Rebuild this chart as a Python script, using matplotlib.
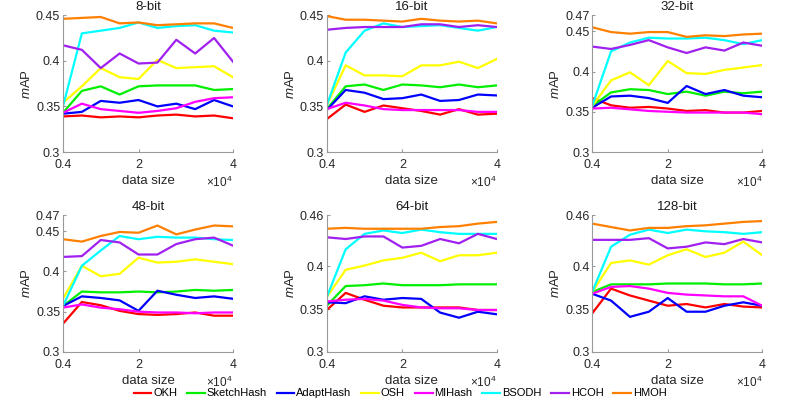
import numpy as np
import matplotlib as mpl
mpl.use('Agg')
import matplotlib.pyplot as plt

plt.rcParams['font.family'] = ['Liberation Sans', 'DejaVu Sans']
plt.rcParams['mathtext.fontset'] = 'custom'
plt.rcParams['mathtext.rm'] = 'Liberation Sans'
plt.rcParams['mathtext.it'] = 'Liberation Sans:italic'

# data size in units of 1e4
data_size = [0.4, 0.8, 1.2, 1.6, 2.0, 2.4, 2.8, 3.2, 3.6, 4.0]

methods = ['OKH', 'SketchHash', 'AdaptHash', 'OSH', 'MIHash', 'BSODH', 'HCOH', 'HMOH']
colors = ['#ff0000', '#00ee00', '#0000ff', '#ffff00', '#ff00ff', '#00ffff', '#a020f0', '#ff8000']

titles = ['8-bit', '16-bit', '32-bit', '48-bit', '64-bit', '128-bit']
ylims = [(0.3, 0.45), (0.3, 0.45), (0.3, 0.47), (0.3, 0.47), (0.3, 0.46), (0.3, 0.46)]
yticks = [[0.3, 0.35, 0.4, 0.45], [0.3, 0.35, 0.4, 0.45],
          [0.3, 0.35, 0.4, 0.45, 0.47], [0.3, 0.35, 0.4, 0.45, 0.47],
          [0.3, 0.35, 0.4, 0.46], [0.3, 0.35, 0.4, 0.46]]

# mAP per method, order: OKH, SketchHash, AdaptHash, OSH, MIHash, BSODH, HCOH, HMOH
map_8 = [
    [0.339, 0.340, 0.338, 0.339, 0.338, 0.340, 0.341, 0.339, 0.340, 0.337],
    [0.343, 0.367, 0.372, 0.363, 0.372, 0.373, 0.373, 0.373, 0.368, 0.369],
    [0.342, 0.344, 0.356, 0.354, 0.357, 0.350, 0.353, 0.347, 0.357, 0.350],
    [0.354, 0.372, 0.392, 0.382, 0.380, 0.401, 0.392, 0.393, 0.394, 0.382],
    [0.343, 0.353, 0.347, 0.345, 0.343, 0.345, 0.348, 0.355, 0.359, 0.360],
    [0.350, 0.430, 0.433, 0.436, 0.442, 0.436, 0.438, 0.439, 0.433, 0.431],
    [0.417, 0.412, 0.392, 0.408, 0.397, 0.398, 0.423, 0.408, 0.425, 0.399],
    [0.446, 0.447, 0.448, 0.441, 0.442, 0.439, 0.440, 0.441, 0.441, 0.436],
]
map_16 = [
    [0.336, 0.352, 0.344, 0.351, 0.348, 0.345, 0.341, 0.347, 0.341, 0.342],
    [0.347, 0.372, 0.374, 0.368, 0.374, 0.373, 0.371, 0.374, 0.371, 0.373],
    [0.346, 0.368, 0.365, 0.358, 0.359, 0.363, 0.356, 0.357, 0.363, 0.362],
    [0.351, 0.395, 0.384, 0.384, 0.383, 0.395, 0.395, 0.399, 0.392, 0.402],
    [0.347, 0.354, 0.351, 0.347, 0.346, 0.346, 0.346, 0.346, 0.344, 0.344],
    [0.351, 0.409, 0.433, 0.441, 0.437, 0.438, 0.439, 0.436, 0.433, 0.437],
    [0.434, 0.436, 0.437, 0.437, 0.437, 0.440, 0.440, 0.437, 0.439, 0.437],
    [0.449, 0.445, 0.445, 0.444, 0.443, 0.446, 0.444, 0.443, 0.444, 0.441],
]
map_32 = [
    [0.367, 0.358, 0.355, 0.356, 0.354, 0.351, 0.352, 0.349, 0.349, 0.351],
    [0.357, 0.374, 0.378, 0.377, 0.372, 0.375, 0.370, 0.375, 0.373, 0.375],
    [0.355, 0.369, 0.370, 0.367, 0.361, 0.382, 0.372, 0.377, 0.370, 0.368],
    [0.357, 0.389, 0.399, 0.383, 0.413, 0.398, 0.397, 0.402, 0.405, 0.408],
    [0.354, 0.355, 0.353, 0.351, 0.350, 0.349, 0.349, 0.349, 0.349, 0.347],
    [0.357, 0.425, 0.436, 0.442, 0.441, 0.441, 0.442, 0.439, 0.434, 0.439],
    [0.431, 0.428, 0.433, 0.439, 0.430, 0.423, 0.430, 0.426, 0.436, 0.432],
    [0.455, 0.449, 0.447, 0.449, 0.449, 0.443, 0.445, 0.444, 0.446, 0.447],
]
map_48 = [
    [0.335, 0.362, 0.358, 0.351, 0.347, 0.346, 0.347, 0.349, 0.345, 0.345],
    [0.357, 0.375, 0.374, 0.374, 0.375, 0.374, 0.375, 0.377, 0.376, 0.377],
    [0.357, 0.369, 0.367, 0.364, 0.351, 0.376, 0.371, 0.367, 0.369, 0.366],
    [0.366, 0.407, 0.394, 0.397, 0.417, 0.411, 0.412, 0.415, 0.412, 0.409],
    [0.355, 0.359, 0.355, 0.353, 0.350, 0.349, 0.349, 0.348, 0.349, 0.349],
    [0.357, 0.407, 0.426, 0.444, 0.440, 0.443, 0.442, 0.442, 0.440, 0.439],
    [0.418, 0.419, 0.439, 0.436, 0.421, 0.421, 0.434, 0.440, 0.442, 0.432],
    [0.440, 0.437, 0.444, 0.449, 0.448, 0.457, 0.446, 0.452, 0.457, 0.456],
]
map_64 = [
    [0.349, 0.369, 0.361, 0.354, 0.352, 0.352, 0.352, 0.352, 0.349, 0.349],
    [0.354, 0.377, 0.378, 0.380, 0.378, 0.378, 0.378, 0.379, 0.379, 0.379],
    [0.358, 0.357, 0.365, 0.361, 0.363, 0.362, 0.346, 0.340, 0.347, 0.344],
    [0.364, 0.396, 0.401, 0.407, 0.410, 0.416, 0.406, 0.413, 0.413, 0.416],
    [0.359, 0.361, 0.362, 0.360, 0.355, 0.352, 0.351, 0.351, 0.349, 0.349],
    [0.364, 0.420, 0.438, 0.442, 0.439, 0.443, 0.440, 0.438, 0.438, 0.438],
    [0.434, 0.432, 0.435, 0.435, 0.422, 0.424, 0.432, 0.427, 0.438, 0.432],
    [0.444, 0.445, 0.444, 0.444, 0.444, 0.444, 0.446, 0.447, 0.450, 0.452],
]
map_128 = [
    [0.345, 0.374, 0.366, 0.360, 0.354, 0.356, 0.352, 0.356, 0.353, 0.352],
    [0.370, 0.379, 0.379, 0.379, 0.380, 0.380, 0.380, 0.379, 0.379, 0.380],
    [0.368, 0.360, 0.341, 0.347, 0.363, 0.347, 0.347, 0.354, 0.358, 0.354],
    [0.370, 0.404, 0.407, 0.402, 0.413, 0.420, 0.411, 0.416, 0.429, 0.413],
    [0.368, 0.376, 0.377, 0.374, 0.369, 0.367, 0.366, 0.365, 0.365, 0.354],
    [0.370, 0.423, 0.437, 0.443, 0.439, 0.443, 0.441, 0.440, 0.438, 0.440],
    [0.431, 0.431, 0.431, 0.433, 0.421, 0.423, 0.428, 0.426, 0.432, 0.428],
    [0.450, 0.446, 0.442, 0.445, 0.445, 0.447, 0.448, 0.450, 0.452, 0.453],
]
all_maps = [map_8, map_16, map_32, map_48, map_64, map_128]

fig = plt.figure(figsize=(7.97, 3.99), dpi=100)
lefts = [0.079, 0.410, 0.743]
bottoms = [0.619, 0.118]
w, h = 0.2133, 0.343

for i in range(6):
    r, c = divmod(i, 3)
    ax = fig.add_axes([lefts[c], bottoms[r], w, h])
    for k in range(len(methods)):
        ax.plot(data_size, all_maps[i][k], color=colors[k], lw=1.6, label=methods[k])
    ax.set_xlim(0.4, 4)
    ax.set_ylim(*ylims[i])
    ax.set_xticks([0.4, 2, 4])
    ax.set_xticklabels(['0.4', '2', '4'])
    ax.set_yticks(yticks[i])
    ax.set_yticklabels([('%g' % t) for t in yticks[i]])
    for s in ['top', 'right']:
        ax.spines[s].set_visible(False)
    for s in ['left', 'bottom']:
        ax.spines[s].set_color('#9a9a9a')
        ax.spines[s].set_linewidth(0.8)
    ax.tick_params(direction='in', length=2.5, color='#9a9a9a', labelcolor='#262626',
                   labelsize=9, pad=2)
    ax.tick_params(axis='x', pad=5)
    ax.set_title(titles[i], fontsize=9.5, pad=4, color='#1a1a1a')
    ax.set_xlabel('data size', fontsize=9.5, color='#262626', labelpad=3)
    ax.set_ylabel(r'$\mathit{m}$AP', fontsize=9.5, color='#262626', labelpad=2)
    ax.text(1.0, -0.165, r'$\times10^{4}$', transform=ax.transAxes, ha='right', va='top',
            fontsize=8.5, color='#262626')
    if i == 0:
        handles, labels = ax.get_legend_handles_labels()

fig.legend(handles, labels, loc='center', bbox_to_anchor=(0.502, 0.014), ncol=8,
           frameon=False, fontsize=8, handlelength=1.6, handletextpad=0.15,
           columnspacing=0.9, borderaxespad=0, borderpad=0)

fig.savefig('out.png', dpi=100)
